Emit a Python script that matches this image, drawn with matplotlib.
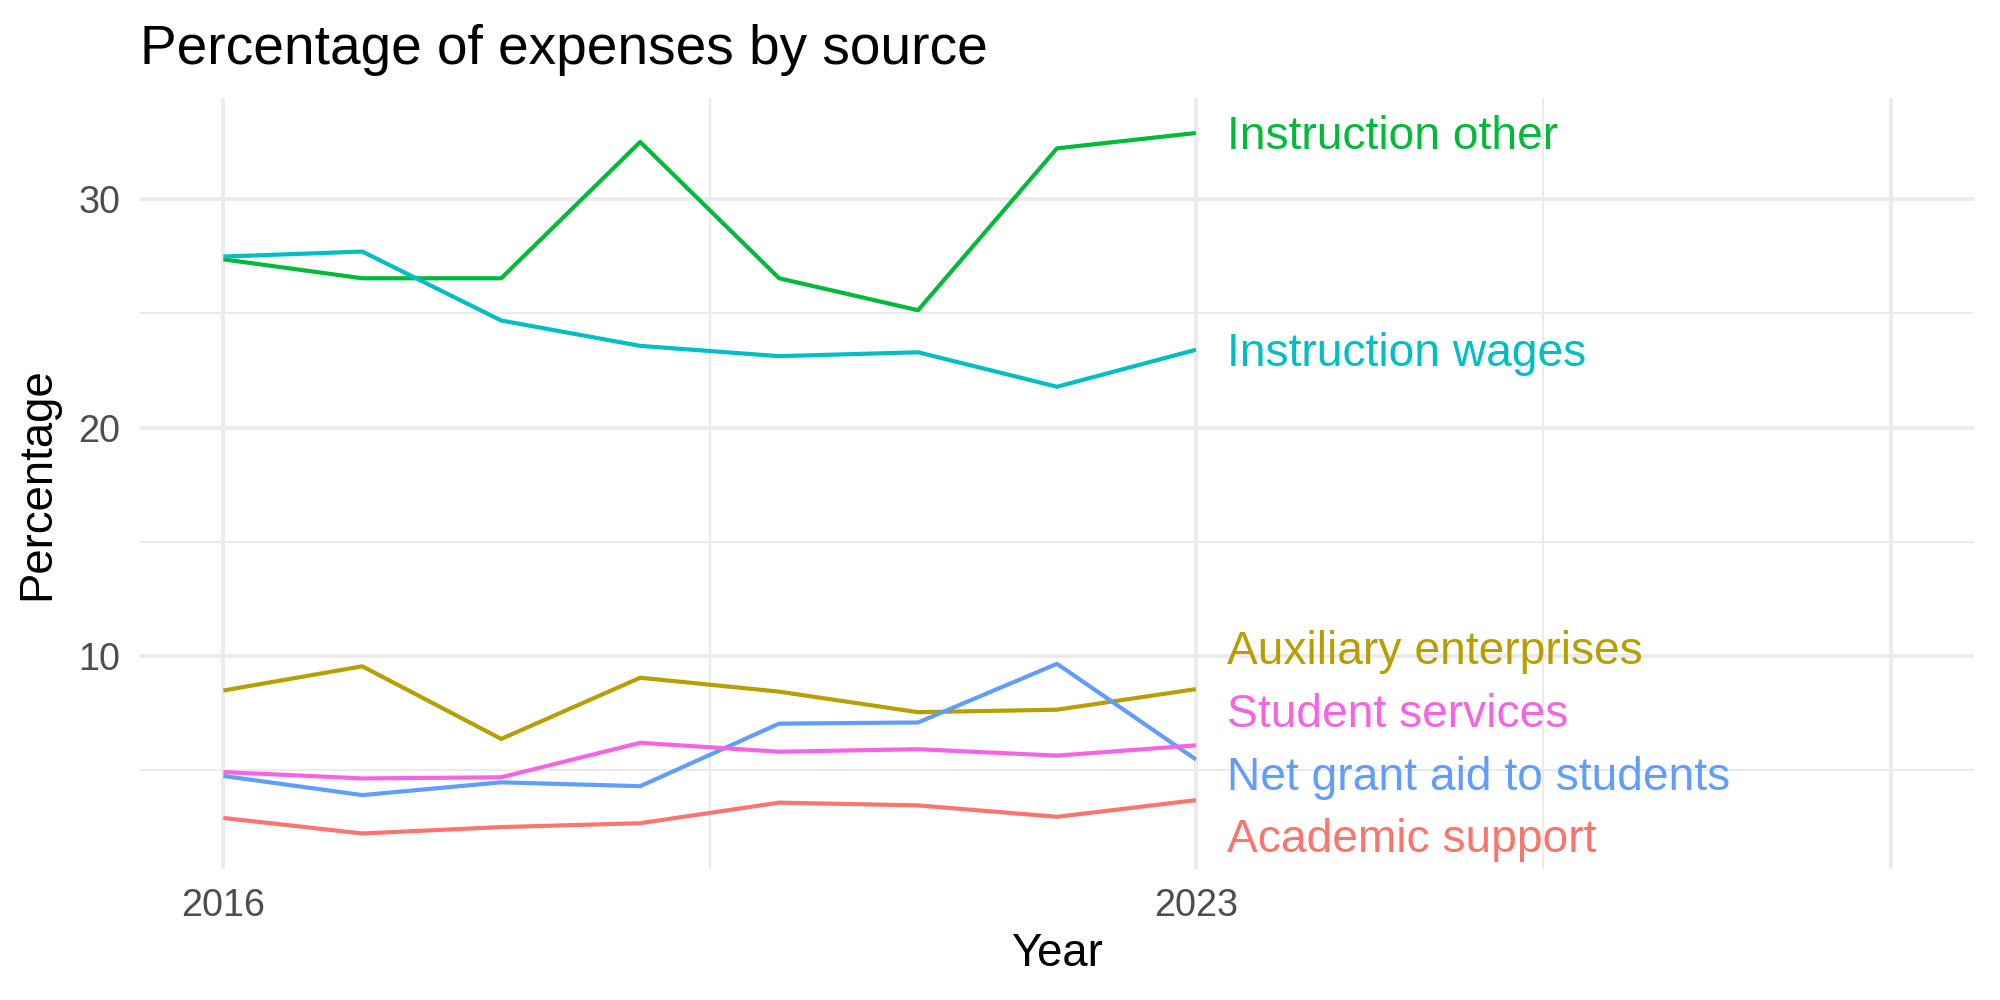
import matplotlib
matplotlib.use("Agg")
import matplotlib.pyplot as plt
import matplotlib.transforms as mtransforms
import numpy as np

plt.rcParams["font.family"] = ["Liberation Sans", "DejaVu Sans"]

years = [2016, 2017, 2018, 2019, 2020, 2021, 2022, 2023]

sources = [
    "Academic support",
    "Auxiliary enterprises",
    "Instruction other",
    "Instruction wages",
    "Net grant aid to students",
    "Student services",
]

academic_support = [2.91, 2.23, 2.51, 2.68, 3.58, 3.46, 2.96, 3.69]
auxiliary_enterprises = [8.49, 9.55, 6.37, 9.05, 8.44, 7.54, 7.65, 8.55]
instruction_other = [27.37, 26.54, 26.54, 32.51, 26.54, 25.14, 32.23, 32.90]
instruction_wages = [27.49, 27.71, 24.69, 23.58, 23.13, 23.30, 21.79, 23.41]
net_grant_aid = [4.75, 3.91, 4.47, 4.30, 7.04, 7.09, 9.66, 5.47]
student_services = [4.92, 4.64, 4.69, 6.20, 5.81, 5.92, 5.64, 6.09]

series = [
    academic_support,
    auxiliary_enterprises,
    instruction_other,
    instruction_wages,
    net_grant_aid,
    student_services,
]

# ggplot default hue palette, 6 levels
colors = ["#F8766D", "#B79F00", "#00BA38", "#00BFC4", "#619CFF", "#F564E3"]


def repel(values, gap):
    """Spread label positions so neighbours are at least `gap` apart (clusters centred on their mean)."""
    order = np.argsort(values)
    vals = np.asarray(values, dtype=float)[order]
    clusters = [[v] for v in vals]
    changed = True
    while changed:
        changed = False
        out = []
        for c in clusters:
            if out:
                prev = out[-1]
                prev_top = np.mean(prev) + gap * (len(prev) - 1) / 2
                cur_bot = np.mean(c) - gap * (len(c) - 1) / 2
                if cur_bot - prev_top < gap:
                    out[-1] = prev + c
                    changed = True
                    continue
            out.append(c)
        clusters = out
    pos = []
    for c in clusters:
        m = np.mean(c)
        n = len(c)
        pos += [m + gap * (i - (n - 1) / 2) for i in range(n)]
    result = np.empty(len(vals))
    result[order] = pos
    return result


fig = plt.figure(figsize=(10, 5), dpi=200, facecolor="white")
ax = fig.add_axes([0.07, 0.1315, 0.917, 0.7705])

for vals, col in zip(series, colors):
    ax.plot(years, vals, color=col, linewidth=1.5, zorder=3, solid_capstyle="butt")

last_vals = [s[-1] for s in series]
label_y = repel(last_vals, 2.75)
label_y = label_y + np.where(np.array(last_vals) < 15, 0.28, 0.0)
label_tr = mtransforms.offset_copy(ax.transData, fig=fig, y=-1.5, units="points")
for name, y, col in zip(sources, label_y, colors):
    ax.text(2023.22, y, name, color=col, fontsize=16.6, ha="left", va="center",
            zorder=4, transform=label_tr)

# limits with ggplot-style 5% expansion
x_lo, x_hi = 2016, 2028
all_vals = np.concatenate(series)
y_lo, y_hi = all_vals.min(), all_vals.max()
ax.set_xlim(x_lo - 0.05 * (x_hi - x_lo), x_hi + 0.05 * (x_hi - x_lo))
ax.set_ylim(y_lo - 0.05 * (y_hi - y_lo), y_hi + 0.05 * (y_hi - y_lo))

ax.set_xticks([2016, 2023, 2028])
ax.set_xticklabels(["2016", "2023", ""])
ax.set_xticks([2019.5, 2025.5], minor=True)
ax.set_yticks([10, 20, 30])
ax.set_yticks([5, 15, 25], minor=True)

ax.grid(which="major", color="#EBEBEB", linewidth=1.4, zorder=0)
ax.grid(which="minor", color="#EBEBEB", linewidth=0.7, zorder=0)
ax.set_axisbelow(True)
for s in ax.spines.values():
    s.set_visible(False)
ax.tick_params(which="both", length=0)
ax.tick_params(axis="both", labelsize=13.6, labelcolor="#4D4D4D")
ax.tick_params(axis="x", pad=7)
ax.tick_params(axis="y", pad=7)

ax.set_xlabel("Year", fontsize=16.4, color="black", labelpad=3)
ax.set_ylabel("Percentage", fontsize=16.4, color="black", labelpad=7)

fig.text(0.07, 0.936, "Percentage of expenses by source", fontsize=19.8, color="black",
         ha="left", va="baseline")

fig.savefig("out.png", dpi=200, facecolor="white")
plt.close(fig)
